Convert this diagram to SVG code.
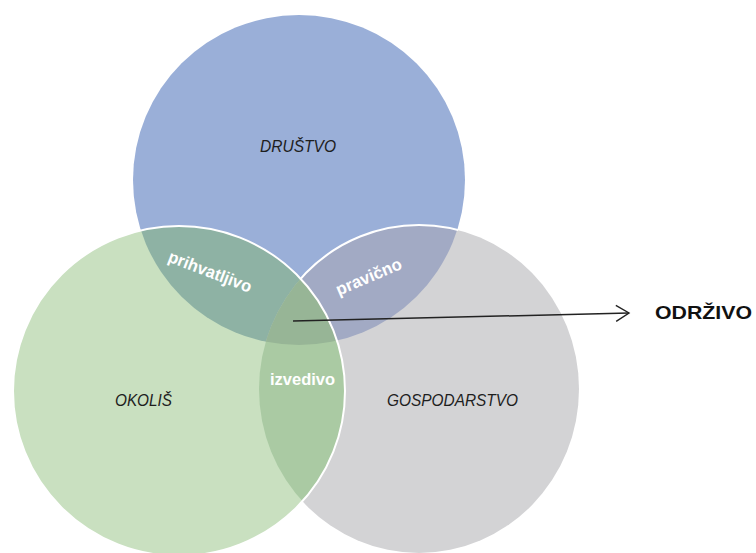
<svg xmlns="http://www.w3.org/2000/svg" width="756" height="553" viewBox="0 0 756 553">
  <style>
    .lbl { font-family: "Liberation Sans", Arial, sans-serif; font-style: italic; font-size: 16px; fill: #1e1e1e; text-anchor: middle; }
    .ovl { font-family: "Liberation Sans", Arial, sans-serif; font-weight: bold; font-size: 17px; fill: #ffffff; text-anchor: middle; }
    .out { font-family: "Liberation Sans", Arial, sans-serif; font-weight: bold; font-size: 19px; fill: #111111; }
    .edge { fill: none; stroke: #ffffff; stroke-width: 2; }
  </style>
  <defs>
    <clipPath id="cBlue"><ellipse cx="299" cy="180" rx="166" ry="165"/></clipPath>
    <clipPath id="cGray"><ellipse cx="419" cy="389" rx="160" ry="164"/></clipPath>
    <mask id="mGrayEdge" maskUnits="userSpaceOnUse" x="0" y="0" width="756" height="553">
      <ellipse cx="299" cy="180" rx="167" ry="166" fill="#fff"/>
      <ellipse cx="179" cy="391" rx="166" ry="165" fill="#000"/>
    </mask>
    <marker id="arrowOpen" markerWidth="16" markerHeight="18" refX="14" refY="9" orient="auto" markerUnits="userSpaceOnUse">
      <path d="M1,1 L14,9 L1,17" fill="none" stroke="#222" stroke-width="1.4"/>
    </marker>
  </defs>

  <rect width="756" height="553" fill="#ffffff"/>

  <g id="drustvo">
    <ellipse cx="299" cy="180" rx="166" ry="165" fill="#9AAFD8"/>
  </g>
  <g id="gospodarstvo">
    <ellipse cx="419" cy="389" rx="160" ry="164" fill="#D3D3D5"/>
  </g>
  <g id="okolis">
    <ellipse cx="179" cy="391" rx="166" ry="165" fill="#C9E0C0"/>
  </g>

  <g id="overlaps">
    <ellipse cx="179" cy="391" rx="166" ry="165" fill="#8EB2A4" clip-path="url(#cBlue)"/>
    <ellipse cx="419" cy="389" rx="160" ry="164" fill="#A2AAC4" clip-path="url(#cBlue)"/>
    <ellipse cx="179" cy="391" rx="166" ry="165" fill="#AACAA3" clip-path="url(#cGray)"/>
    <g clip-path="url(#cBlue)">
      <ellipse cx="179" cy="391" rx="166" ry="165" fill="#97B596" clip-path="url(#cGray)"/>
    </g>
    <ellipse class="edge" cx="419" cy="389" rx="160" ry="164" mask="url(#mGrayEdge)"/>
    <ellipse class="edge" cx="179" cy="391" rx="166" ry="165"/>
  </g>

  <g id="labels">
    <text class="lbl" x="298" y="152" textLength="76" lengthAdjust="spacingAndGlyphs">DRUŠTVO</text>
    <text class="lbl" x="143.5" y="406" textLength="57" lengthAdjust="spacingAndGlyphs">OKOLIŠ</text>
    <text class="lbl" x="452.5" y="406" textLength="131" lengthAdjust="spacingAndGlyphs">GOSPODARSTVO</text>
    <text class="ovl" x="302.5" y="385" textLength="65" lengthAdjust="spacingAndGlyphs">izvedivo</text>
    <text class="ovl" x="208" y="277" transform="rotate(21 208 277)" textLength="88" lengthAdjust="spacingAndGlyphs">prihvatljivo</text>
    <text class="ovl" x="371" y="282" transform="rotate(-23 371 282)" textLength="70" lengthAdjust="spacingAndGlyphs">pravično</text>
  </g>

  <g id="connectors">
    <line x1="293" y1="321" x2="629" y2="313" stroke="#222" stroke-width="1.5" marker-end="url(#arrowOpen)"/>
  </g>

  <g id="odrzivo">
    <text class="out" x="655" y="319" textLength="97" lengthAdjust="spacingAndGlyphs">ODRŽIVO</text>
  </g>
</svg>
